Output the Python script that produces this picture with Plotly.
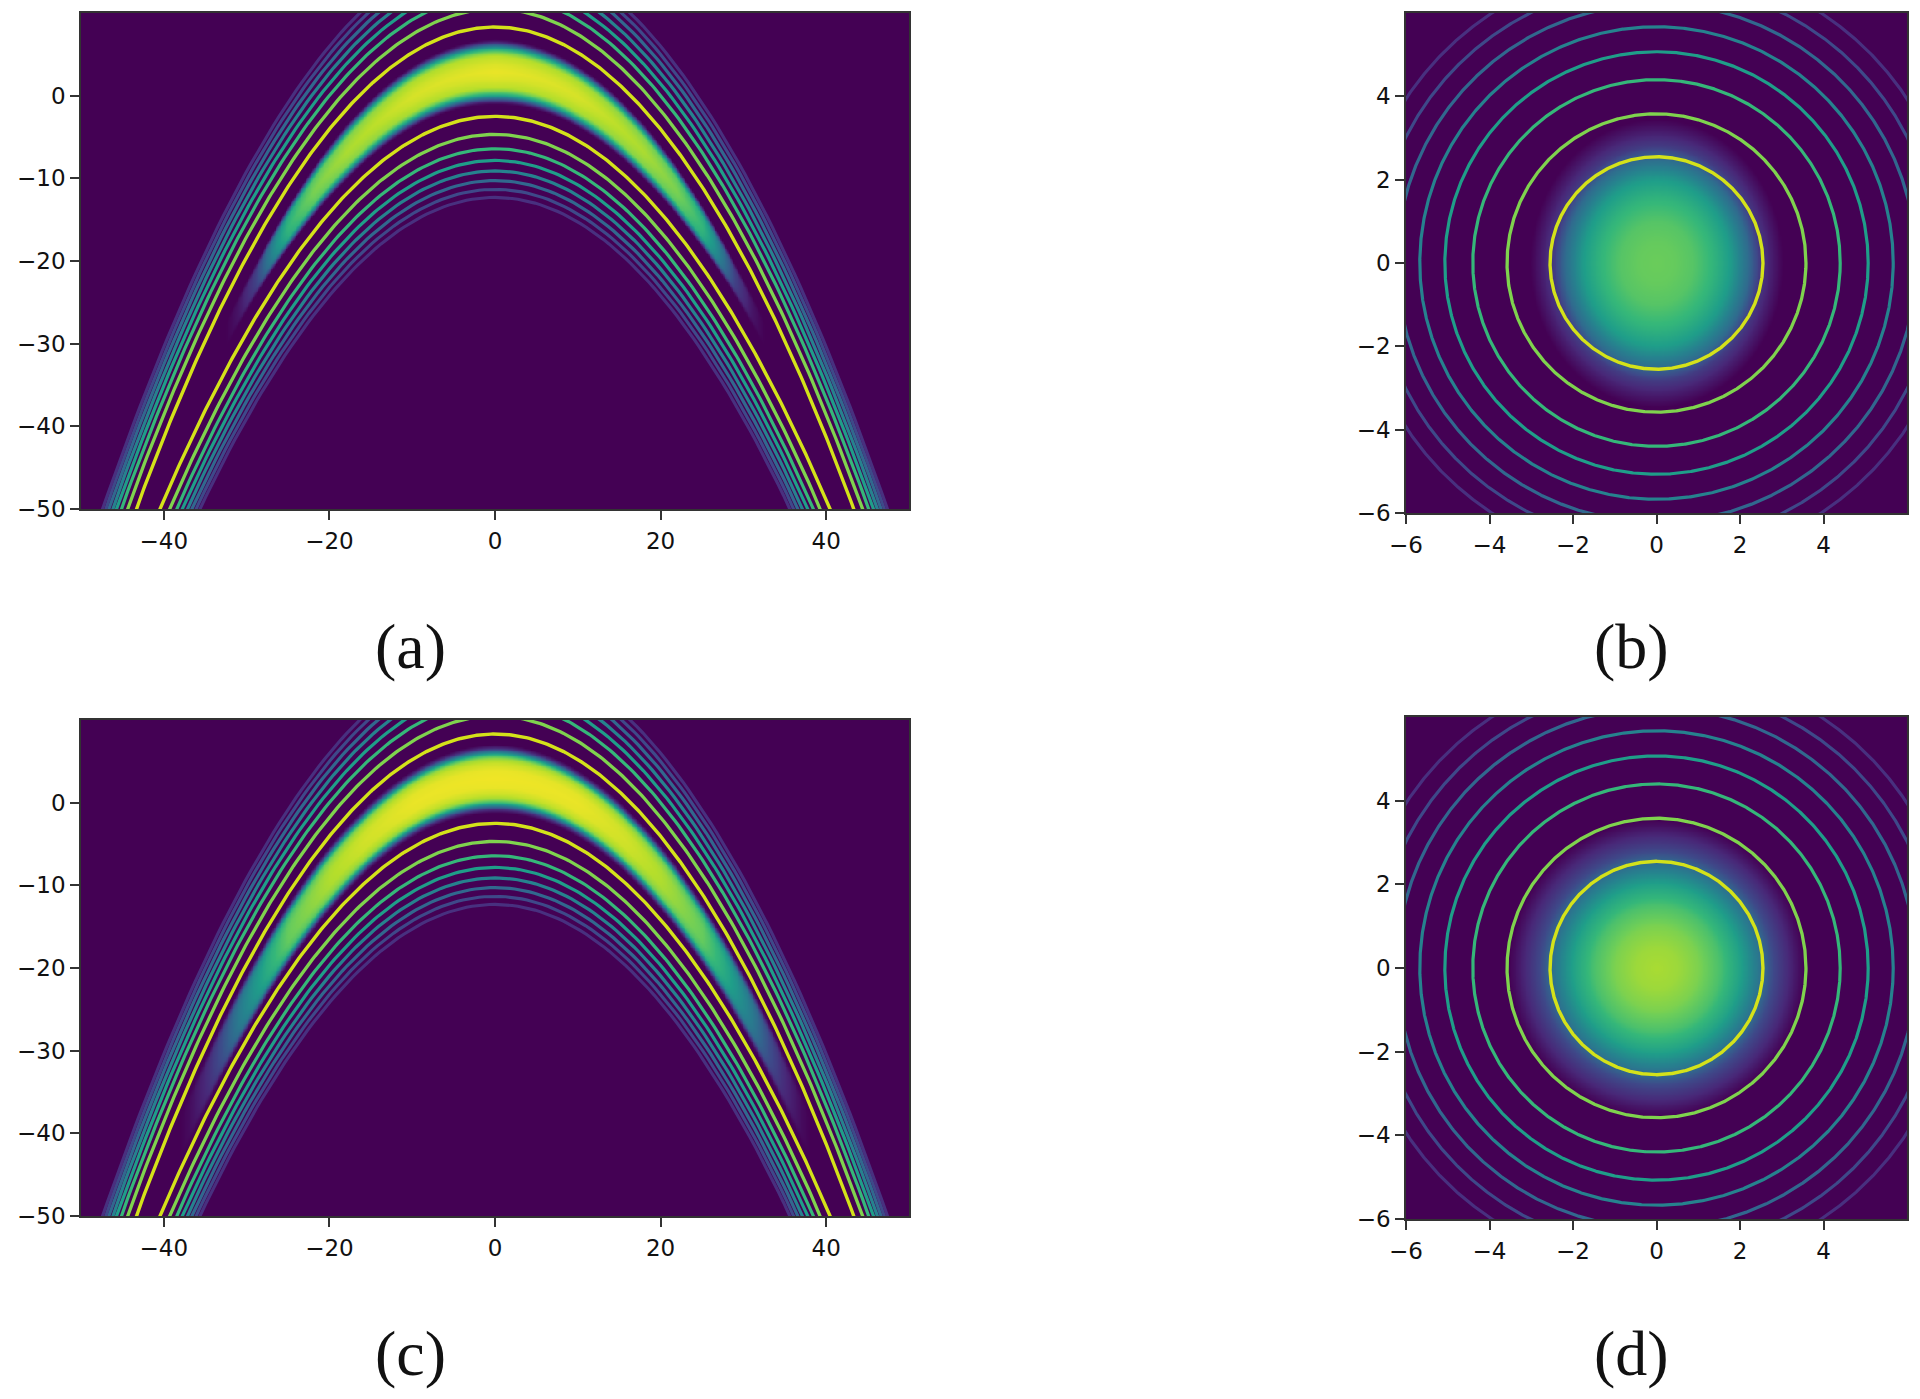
import numpy as np
import plotly.graph_objects as go

# --- values ---
level_radii = [2.55, 3.58, 4.40, 5.07, 5.67, 6.22, 6.72, 7.18]
level_colors = ["#d4e21a", "#7fd34e", "#35b779", "#1f9e89", "#26828e", "#31688e", "#3e4989", "#48307f"]
level_widths = [3.4, 3.3, 3.2, 3.2, 3.2, 3.2, 3.1, 3.1]

# ridge of the curved panels: apex height, curvature, vertical scale, horizontal scale of the contours
ridge_apex = 2.9
ridge_curv = 0.03
ridge_vscale = 2.118
contour_hscale = 22.0

# curved panels: colour value across the band, brightness and width along it
across_a = [0.0, 0.4, 0.9, 1.1, 1.33, 1.55, 1.7, 1.85, 9]
den_a = [0.97, 0.95, 0.9, 0.8, 0.6, 0.3, 0.1, 0.0, 0.0]
along_x_a = [0, 10, 18, 22, 25, 26.7, 29, 31, 32.5, 50]
bright_a = [1.0, 0.97, 0.9, 0.82, 0.68, 0.5, 0.2, 0.06, 0.0, 0.0]
width_x_a = [0, 10, 18, 22, 25, 29, 33, 50]
width_a = [1.0, 0.95, 0.85, 0.75, 0.65, 0.5, 0.42, 0.42]

across_c = [0.0, 0.5, 0.9, 1.15, 1.35, 1.55, 1.75, 1.95, 9]
den_c = [0.98, 0.97, 0.92, 0.85, 0.68, 0.4, 0.12, 0.0, 0.0]
along_x_c = [0, 10, 16, 20, 25, 28, 31, 33, 35, 37, 38, 50]
bright_c = [1.0, 0.99, 0.95, 0.9, 0.78, 0.6, 0.42, 0.25, 0.12, 0.03, 0.0, 0.0]
width_x_c = [0, 20, 30, 38, 50]
width_c = [1.0, 0.95, 0.85, 0.75, 0.75]

# round panels: colour value against distance from the centre
rad_b = [0.0, 0.5, 1.0, 1.5, 2.0, 2.5, 2.8, 3.1, 3.45, 9]
den_b = [0.77, 0.76, 0.73, 0.66, 0.55, 0.35, 0.18, 0.09, 0.0, 0.0]
squeeze_b = 1.14
rad_d = [0.0, 0.5, 1.0, 1.5, 2.0, 2.5, 2.8, 3.1, 3.4, 3.55, 9]
den_d = [0.87, 0.85, 0.8, 0.71, 0.57, 0.37, 0.22, 0.13, 0.04, 0.0, 0.0]
squeeze_d = 1.0

wide_ticks_x = [-40, -20, 0, 20, 40]
wide_ticks_y = [-50, -40, -30, -20, -10, 0]
square_ticks = [-6, -4, -2, 0, 2, 4]
wide_range_x = [-50, 50]
wide_range_y = [-50, 10]
square_range = [-6, 6]

# panel boxes in page pixels: left, right, top, bottom
box_a = (81, 909, 13, 509)
box_b = (1406, 1907, 13, 513)
box_c = (81, 909, 720, 1216)
box_d = (1406, 1907, 717, 1219)

captions = ["(a)", "(b)", "(c)", "(d)"]
caption_x = [410, 1631, 410, 1631]
caption_y = [647, 647, 1353, 1353]

W, H = 1920, 1399
fig = go.Figure()


def banana_field(across, den, xb, br, xw, wd):
    x = np.linspace(-50, 50, 501)
    y = np.linspace(-50, 10, 301)
    X, Y = np.meshgrid(x, y)
    v = np.abs(Y - ridge_apex + ridge_curv * X ** 2) / ridge_vscale
    ax = np.abs(X)
    z = np.interp(v / np.interp(ax, xw, wd), across, den) * np.interp(ax, xb, br)
    return x, y, np.round(z, 3)


def disc_field(rad_t, den_t, sq):
    x = np.linspace(-6, 6, 301)
    X, Y = np.meshgrid(x, x)
    rho = np.sqrt((sq * X) ** 2 + Y ** 2)
    return x, x, np.round(np.interp(rho, rad_t, den_t), 3)


def add_panel(idx, box, field, curved, ticks_x, ticks_y, xr, yr):
    suffix = "" if idx == 1 else str(idx)
    fx, fy, fz = field
    fig.add_trace(go.Heatmap(x=fx, y=fy, z=fz, zmin=0, zmax=1, colorscale="Viridis", showscale=False,
                             zsmooth="best", hoverinfo="skip", xaxis="x" + suffix, yaxis="y" + suffix))
    t = np.linspace(0, 2 * np.pi, 1441)
    for r, col, w in zip(level_radii, level_colors, level_widths):
        if curved:
            px = contour_hscale * r * np.cos(t)
            py = ridge_apex - ridge_curv * px ** 2 + ridge_vscale * r * np.sin(t)
        else:
            px = r * np.cos(t)
            py = r * np.sin(t)
        fig.add_trace(go.Scatter(x=px, y=py, mode="lines", line=dict(color=col, width=w), showlegend=False,
                                 hoverinfo="skip", xaxis="x" + suffix, yaxis="y" + suffix))
    l, r_, top, bot = box
    common = dict(showline=True, mirror=True, linecolor="#333333", linewidth=1.5, ticks="outside", ticklen=9,
                  tickwidth=1.5, tickcolor="#333333", showgrid=False, zeroline=False, automargin=False,
                  tickfont=dict(family="DejaVu Sans", size=23, color="#111111"))
    fig.update_layout(**{
        "xaxis" + suffix: dict(domain=[l / W, r_ / W], range=xr, tickvals=ticks_x, anchor="y" + suffix,
                               ticklabelstandoff=2, **common),
        "yaxis" + suffix: dict(domain=[1 - bot / H, 1 - top / H], range=yr, tickvals=ticks_y, anchor="x" + suffix, **common),
    })


add_panel(1, box_a, banana_field(across_a, den_a, along_x_a, bright_a, width_x_a, width_a), True,
          wide_ticks_x, wide_ticks_y, wide_range_x, wide_range_y)
add_panel(2, box_b, disc_field(rad_b, den_b, squeeze_b), False, square_ticks, square_ticks, square_range, square_range)
add_panel(3, box_c, banana_field(across_c, den_c, along_x_c, bright_c, width_x_c, width_c), True,
          wide_ticks_x, wide_ticks_y, wide_range_x, wide_range_y)
add_panel(4, box_d, disc_field(rad_d, den_d, squeeze_d), False, square_ticks, square_ticks, square_range, square_range)

for text, cx, cy in zip(captions, caption_x, caption_y):
    fig.add_annotation(text=text, x=cx / W, y=1 - cy / H, xref="paper", yref="paper", showarrow=False,
                       xanchor="center", yanchor="middle", font=dict(family="Liberation Serif", size=64, color="#111111"))

fig.update_layout(width=W, height=H, autosize=False, margin=dict(l=0, r=0, t=0, b=0, autoexpand=False),
                  paper_bgcolor="white", plot_bgcolor="#440154", showlegend=False)
fig.write_html("out.html", config={"displayModeBar": False}, post_script="document.body.style.margin='0';")
